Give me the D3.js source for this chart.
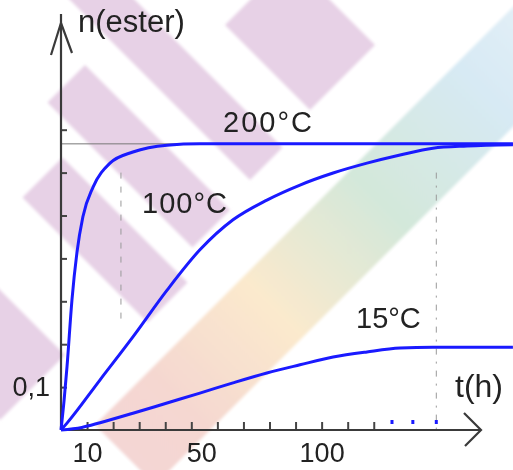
<!DOCTYPE html>
<html>
<head>
    <meta charset="utf-8">
    <title>n(ester) vs t(h)</title>
    <script type="text/javascript" src="https://cdn.jsdelivr.net/npm/d3@7"></script>
    <style>
        html, body { margin: 0; padding: 0; background: #fff; }
        svg { display: block; }
    </style>
</head>

<body>

<script type="text/javascript">
// values: t in hours, n in mol
var t200 = [0, 1.2, 2.3, 4.2, 6.1, 8.4, 12.3, 18.8, 27.6, 40.7, 53.3, 80, 120, 173.4];
var n200 = [0, 0.07, 0.147, 0.303, 0.413, 0.497, 0.566, 0.622, 0.648, 0.664, 0.667, 0.667, 0.667, 0.667];

var t100 = [0, 2.3, 15, 27.6, 40.7, 53.3, 66, 79, 91.7, 104.4, 117.4, 130.1, 142.7, 155.8, 173.4];
var n100 = [0, 0.016, 0.117, 0.217, 0.326, 0.42, 0.49, 0.536, 0.571, 0.599, 0.622, 0.641, 0.657, 0.662, 0.665];

var t15 = [0, 8, 15, 27.6, 40.7, 53.3, 66, 79, 91.7, 104.4, 117.4, 130.1, 142.7, 173.4];
var n15 = [0, 0.006, 0.017, 0.039, 0.063, 0.086, 0.11, 0.133, 0.152, 0.17, 0.182, 0.191, 0.193, 0.193];

var curveNames = ["200°C", "100°C", "15°C"];

var xTicks = [10, 20, 30, 40, 50, 60, 70, 80, 90, 100, 110, 120];
var xDotTicks = [127, 135, 144];
var xTickLabels = {10: "10", 50: "50", 100: "100"};
var yTicks = [0.1, 0.2, 0.3, 0.4, 0.5, 0.6, 0.7];
var yTickLabels = {0.1: "0,1"};

var nMax = 0.667;       // equilibrium line
var tMark1 = 23, tMark2 = 144;

var width = 513, height = 470;

var x = d3.scaleLinear().domain([0, 160]).range([61, 478]);
var y = d3.scaleLinear().domain([0, 1]).range([430, 1]);

var svg = d3.select("body").append("svg")
        .attr("width", width)
        .attr("height", height);

var defs = svg.append("defs");

defs.append("filter")
        .attr("id", "soft")
        .append("feGaussianBlur")
        .attr("stdDeviation", 1.5);

var grad = defs.append("linearGradient")
        .attr("id", "rainbow")
        .attr("gradientUnits", "userSpaceOnUse")
        .attr("x1", 125).attr("y1", 455)
        .attr("x2", 570).attr("y2", 10);

[[0, "#f3d2d0"], [0.12, "#f4d3cc"], [0.33, "#fbe8c8"], [0.57, "#cfe6d6"], [0.81, "#d3e8f3"], [1, "#e4f0f7"]]
        .forEach(function (s) {
            grad.append("stop").attr("offset", s[0]).attr("stop-color", s[1]);
        });

// background watermark: 45 degree bands given by s = x + y and d = y - x
function band(s1, s2, d1, d2) {
    return [[s1, d1], [s2, d1], [s2, d2], [s1, d2]].map(function (c) {
        return [(c[0] - c[1]) / 2, (c[0] + c[1]) / 2].join(",");
    }).join(" ");
}

var wm = svg.append("g").attr("filter", "url(#soft)");

[[60, 430, -135, -70], [150, 440, -20, 55], [220, 470, 95, 175],
    [250, 420, 290, 420], [250, 420, -330, -200]].forEach(function (b) {
    wm.append("polygon")
            .attr("points", band(b[0], b[1], b[2], b[3]))
            .attr("fill", "#e3c9e2")
            .attr("opacity", 0.85);
});

wm.append("polygon")
        .attr("points", band(520, 640, -560, 330))
        .attr("fill", "url(#rainbow)")
        .attr("opacity", 0.9);

// guide lines
svg.append("line")
        .attr("x1", x(0)).attr("x2", width)
        .attr("y1", y(nMax)).attr("y2", y(nMax))
        .attr("stroke", "#777")
        .attr("stroke-width", 1);

svg.append("line")
        .attr("x1", x(tMark1)).attr("x2", x(tMark1))
        .attr("y1", y(0.6)).attr("y2", y(0.255))
        .attr("stroke", "#999")
        .attr("stroke-width", 1)
        .attr("stroke-dasharray", "6,8");

svg.append("line")
        .attr("x1", x(tMark2)).attr("x2", x(tMark2))
        .attr("y1", y(0.6)).attr("y2", y(0))
        .attr("stroke", "#999")
        .attr("stroke-width", 1)
        .attr("stroke-dasharray", "6,7,2,7");

// axes
var xAxis = d3.axisBottom(x)
        .tickValues(xTicks)
        .tickSizeInner(-8)
        .tickSizeOuter(0)
        .tickPadding(11)
        .tickFormat(function (d) { return xTickLabels[d] || ""; });

var xG = svg.append("g")
        .attr("transform", "translate(0," + y(0) + ")")
        .call(xAxis);

var yAxis = d3.axisLeft(y)
        .tickValues(yTicks)
        .tickSizeInner(-6)
        .tickSizeOuter(0)
        .tickPadding(11)
        .tickFormat(function (d) { return yTickLabels[d] || ""; });

var yG = svg.append("g")
        .attr("transform", "translate(" + x(0) + ",0)")
        .call(yAxis);

[xG, yG].forEach(function (g) {
    g.select(".domain").remove();
    g.selectAll(".tick line").attr("stroke", "#444").attr("stroke-width", 2);
    g.selectAll(".tick text")
            .attr("fill", "#222")
            .style("font-family", "'Liberation Sans', Arial, sans-serif")
            .style("font-size", "27px");
});

xG.selectAll(".tick text")
        .attr("dy", "0.76em")
        .attr("dx", function (d) { return d === 50 ? 10 : 0; });

svg.selectAll("rect.dot")
        .data(xDotTicks)
        .enter().append("rect")
        .attr("class", "dot")
        .attr("x", function (d) { return x(d) - 1.5; })
        .attr("y", y(0) - 10)
        .attr("width", 3)
        .attr("height", 4)
        .attr("fill", "#1a1aff");

var axisLines = svg.append("g")
        .attr("stroke", "#3a3a3a")
        .attr("stroke-width", 2.2)
        .attr("fill", "none");

axisLines.append("line")
        .attr("x1", x(0)).attr("y1", y(0))
        .attr("x2", 481).attr("y2", y(0));
axisLines.append("polyline")
        .attr("points", "464,413 481," + y(0) + " 465,446");

axisLines.append("line")
        .attr("x1", x(0)).attr("y1", y(0))
        .attr("x2", x(0)).attr("y2", 14);
axisLines.append("polyline")
        .attr("points", "51,55 " + x(0) + ",23 72,53");

// curves
var series = [
    {name: curveNames[0], t: t200, n: n200},
    {name: curveNames[1], t: t100, n: n100},
    {name: curveNames[2], t: t15, n: n15}
];

var line = d3.line()
        .x(function (d) { return x(d[0]); })
        .y(function (d) { return y(d[1]); })
        .curve(d3.curveMonotoneX);

svg.selectAll("path.curve")
        .data(series)
        .enter().append("path")
        .attr("class", "curve")
        .attr("d", function (s) { return line(d3.zip(s.t, s.n)); })
        .attr("fill", "none")
        .attr("stroke", "#1a1aff")
        .attr("stroke-width", 3);

// labels
var textFont = "'Liberation Sans', Arial, sans-serif";

function label(txt, px, py, size, spacing) {
    svg.append("text")
            .attr("x", px)
            .attr("y", py)
            .attr("fill", "#222")
            .style("font-family", textFont)
            .style("font-size", size + "px")
            .style("letter-spacing", (spacing || 0) + "px")
            .text(txt);
}

label("n(ester)", 78, 32, 31);
label("t(h)", 455, 397, 32);
label(curveNames[0], 223, 132, 29, 2);
label(curveNames[1], 142, 213, 29, 1);
label(curveNames[2], 356, 328, 29);
</script>

</body>

</html>
